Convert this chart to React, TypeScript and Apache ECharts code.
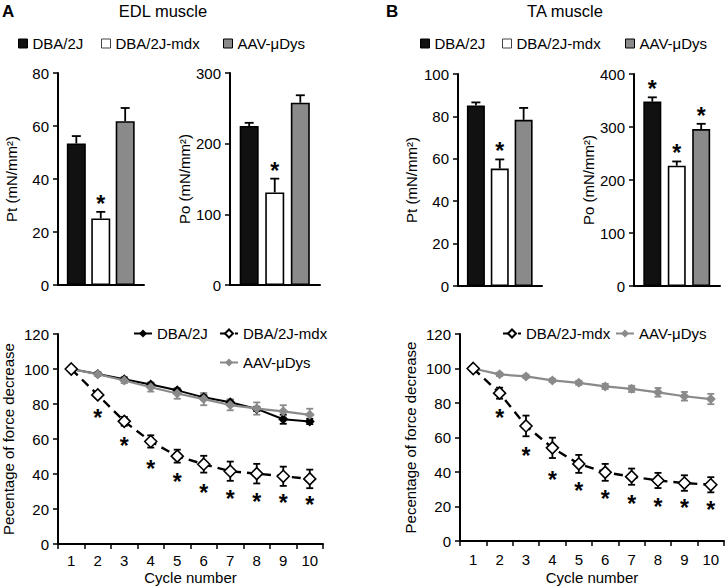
import React, { useEffect, useRef } from 'react';
import * as echarts from 'echarts';

// ---------- data ----------
const groups = ['DBA/2J', 'DBA/2J-mdx', 'AAV-μDys'];
const groupFill = ['#111111', '#ffffff', '#8a8a8a'];

const edlPt = [53.4, 25.1, 61.8];
const edlPtErr = [2.8, 2.5, 5.0];
const edlPtSig = [0, 1, 0];
const edlPo = [225, 131, 258];
const edlPoErr = [4.5, 19.5, 10.5];
const edlPoSig = [0, 1, 0];
const taPt = [85.2, 55.4, 78.4];
const taPtErr = [1.4, 4.3, 5.6];
const taPtSig = [0, 1, 0];
const taPo = [348, 227, 296];
const taPoErr = [8, 8, 10];
const taPoSig = [1, 1, 1];

const cycles = ['1', '2', '3', '4', '5', '6', '7', '8', '9', '10'];
const edlDba = [100, 97.2, 94.2, 91.2, 87.8, 83.8, 81, 77.2, 71.3, 70];
const edlDbaErr = [0, 0.8, 1, 1, 1, 1.2, 1.5, 1.2, 2.6, 1.5];
const edlMdx = [100, 85.2, 70.1, 58.6, 50.2, 45.6, 41.6, 40.2, 38.7, 37.2];
const edlMdxErr = [0, 1.5, 2.5, 3.5, 3.7, 4.8, 5.5, 5.6, 5.5, 5.3];
const edlAav = [100, 97, 93.4, 89.6, 86, 82.8, 79.4, 77.4, 75.8, 73.8];
const edlAavErr = [0, 1, 1.5, 2.5, 3, 3.5, 3, 3.5, 3.5, 3.5];
const edlStarY = [null, 74.9, 58.8, 45.9, 38.3, 31.8, 28.8, 27.1, 26.5, 25];

const taMdx = [100, 85.7, 66.7, 54, 44.7, 39.8, 37.3, 35.1, 33.6, 32.6];
const taMdxErr = [0, 3.2, 6, 5.9, 5.2, 4.9, 4.7, 4.4, 4.5, 4.4];
const taAav = [100, 96.6, 95.4, 93.1, 91.7, 89.6, 88.2, 86.2, 83.9, 82.3];
const taAavErr = [0, 1, 1, 1, 1.2, 1.5, 1.8, 2.5, 2.5, 3];
const taStarY = [null, 74, 52.1, 38.4, 32, 27.1, 24.4, 22.8, 22.2, 20.9];

// ---------- style ----------
const FONT = '"Liberation Sans", Arial, Helvetica, sans-serif';
const GRAY = '#8a8a8a';

function starText(x: number, y: number) {
  return {
    type: 'text',
    x,
    y: y + 5,
    style: {
      text: '*',
      fontSize: 23,
      fontWeight: 'bold',
      fontFamily: FONT,
      fill: '#000',
      textAlign: 'center',
      textVerticalAlign: 'middle',
    },
  };
}

function barErrRender(params: any, api: any) {
  const x = api.value(0);
  const v = api.value(1);
  const e = api.value(2);
  const s = api.value(3);
  const base = api.coord([x, v]);
  const top = api.coord([x, v + e]);
  const children: any[] = [
    { type: 'line', shape: { x1: base[0], y1: base[1], x2: top[0], y2: top[1] }, style: { stroke: '#000', lineWidth: 1.8 } },
    { type: 'line', shape: { x1: top[0] - 4.5, y1: top[1], x2: top[0] + 4.5, y2: top[1] }, style: { stroke: '#000', lineWidth: 1.8 } },
  ];
  if (s) children.push(starText(top[0], top[1] - 13));
  return { type: 'group', children };
}

function lineErrRender(color: string) {
  return (params: any, api: any) => {
    const i = api.value(0);
    const v = api.value(1);
    const e = api.value(2);
    if (!e) return null;
    const a = api.coord([i, v - e]);
    const b = api.coord([i, v + e]);
    const w = 3.5;
    const st = { stroke: color, lineWidth: 1.8 };
    return {
      type: 'group',
      children: [
        { type: 'line', shape: { x1: a[0], y1: a[1], x2: b[0], y2: b[1] }, style: st },
        { type: 'line', shape: { x1: a[0] - w, y1: a[1], x2: a[0] + w, y2: a[1] }, style: st },
        { type: 'line', shape: { x1: b[0] - w, y1: b[1], x2: b[0] + w, y2: b[1] }, style: st },
      ],
    };
  };
}

function starRender(params: any, api: any) {
  const i = api.value(0);
  const y = api.value(1);
  const p = api.coord([i, y]);
  return starText(p[0], p[1]);
}

const barPanels = [
  { grid: { left: 58, top: 73, width: 86, height: 212 }, max: 80, interval: 20, name: 'Pt (mN/mm²)', nameGap: 39, vals: edlPt, errs: edlPtErr, sig: edlPtSig, barW: 19 },
  { grid: { left: 230, top: 73, width: 90, height: 212 }, max: 300, interval: 100, name: 'Po (mN/mm²)', nameGap: 33, vals: edlPo, errs: edlPoErr, sig: edlPoSig, barW: 19 },
  { grid: { left: 458, top: 74, width: 84, height: 212 }, max: 100, interval: 20, name: 'Pt (mN/mm²)', nameGap: 39, vals: taPt, errs: taPtErr, sig: taPtSig, barW: 18 },
  { grid: { left: 634, top: 74, width: 86, height: 212 }, max: 400, interval: 100, name: 'Po (mN/mm²)', nameGap: 37, vals: taPo, errs: taPoErr, sig: taPoSig, barW: 18 },
];

const lineStyles: Record<string, any> = {
  'DBA/2J': { lineStyle: { color: '#000', width: 2 }, itemStyle: { color: '#000' }, symbolSize: 10, err: '#000', z: 3 },
  'AAV-μDys': { lineStyle: { color: GRAY, width: 2.2 }, itemStyle: { color: GRAY }, symbolSize: 10, err: GRAY, z: 4 },
  'DBA/2J-mdx': { lineStyle: { color: '#000', width: 2.4, type: [9, 6] }, itemStyle: { color: '#fff', borderColor: '#000', borderWidth: 1.6 }, symbolSize: 12, err: '#000', z: 5 },
};

const linePanels = [
  {
    grid: { left: 58, top: 334, width: 265, height: 210 }, nameGap: 42, labelMargin: 9, xNameGap: 26,
    lines: [
      { name: 'DBA/2J', vals: edlDba, errs: edlDbaErr },
      { name: 'AAV-μDys', vals: edlAav, errs: edlAavErr },
      { name: 'DBA/2J-mdx', vals: edlMdx, errs: edlMdxErr },
    ],
    stars: edlStarY,
  },
  {
    grid: { left: 460, top: 334, width: 264, height: 207 }, nameGap: 42, labelMargin: 11, xNameGap: 29,
    lines: [
      { name: 'AAV-μDys', vals: taAav, errs: taAavErr },
      { name: 'DBA/2J-mdx', vals: taMdx, errs: taMdxErr },
    ],
    stars: taStarY,
  },
];

function buildOption() {
  const grid: any[] = [];
  const xAxis: any[] = [];
  const yAxis: any[] = [];
  const series: any[] = [];
  const axisLine = { show: true, onZero: false, lineStyle: { color: '#000', width: 2 } };
  const axisLabel = { fontSize: 15, color: '#000', fontFamily: FONT };
  const nameTextStyle = { fontSize: 15, color: '#000', fontFamily: FONT };

  barPanels.forEach((p, i) => {
    grid.push({ ...p.grid });
    xAxis.push({ gridIndex: i, type: 'value', min: 0.25, max: 3.77, axisLine, axisTick: { show: false }, axisLabel: { show: false }, splitLine: { show: false } });
    yAxis.push({
      gridIndex: i, type: 'value', min: 0, max: p.max, interval: p.interval,
      name: p.name, nameLocation: 'middle', nameGap: p.nameGap, nameTextStyle,
      axisLine, axisTick: { show: true, length: 5, lineStyle: { color: '#000', width: 1.5 } },
      axisLabel: { ...axisLabel, margin: 9 }, splitLine: { show: false },
    });
    groups.forEach((g, k) => {
      series.push({
        type: 'bar', name: g, xAxisIndex: i, yAxisIndex: i, data: [[k + 1, p.vals[k]]],
        barWidth: p.barW, barGap: '-100%', silent: true,
        itemStyle: { color: groupFill[k], borderColor: '#000', borderWidth: 1.6 },
      });
    });
    series.push({
      type: 'custom', xAxisIndex: i, yAxisIndex: i, z: 5, silent: true,
      data: p.vals.map((v, k) => [k + 1, v, p.errs[k], p.sig[k]]),
      renderItem: barErrRender,
    });
  });

  linePanels.forEach((p, j) => {
    const i = barPanels.length + j;
    grid.push({ ...p.grid });
    xAxis.push({
      gridIndex: i, type: 'category', data: cycles, boundaryGap: true,
      name: 'Cycle number', nameLocation: 'middle', nameGap: p.xNameGap, nameTextStyle,
      axisLine, axisTick: { show: true, length: 5, lineStyle: { color: '#000', width: 1.5 } },
      axisLabel: { ...axisLabel, margin: p.labelMargin, interval: 0 },
    });
    yAxis.push({
      gridIndex: i, type: 'value', min: 0, max: 120, interval: 20,
      name: 'Pecentage of force decrease', nameLocation: 'middle', nameGap: p.nameGap, nameTextStyle,
      axisLine, axisTick: { show: true, length: 5, lineStyle: { color: '#000', width: 1.5 } },
      axisLabel: { ...axisLabel, margin: 9 }, splitLine: { show: false },
    });
    p.lines.forEach((l) => {
      const st = lineStyles[l.name];
      series.push({
        type: 'custom', xAxisIndex: i, yAxisIndex: i, z: 1, silent: true,
        data: l.vals.map((v, k) => [k, v, l.errs[k]]),
        renderItem: lineErrRender(st.err),
      });
    });
    p.lines.forEach((l) => {
      const st = lineStyles[l.name];
      series.push({
        type: 'line', name: 'line:' + l.name, xAxisIndex: i, yAxisIndex: i, data: l.vals,
        symbol: 'diamond', symbolSize: st.symbolSize, showSymbol: true, z: st.z, silent: true,
        lineStyle: st.lineStyle, itemStyle: st.itemStyle,
      });
    });
    series.push({
      type: 'custom', xAxisIndex: i, yAxisIndex: i, z: 6, silent: true,
      data: p.stars.map((y, k) => (y == null ? null : [k, y])).filter((d) => d != null),
      renderItem: starRender,
    });
  });

  const legendText = { fontSize: 15, color: '#000', fontFamily: FONT };
  const barLegend = (name: string, k: number, left: number) => ({
    left, top: 36, padding: 0, selectedMode: false, itemWidth: 9, itemHeight: 9, textStyle: legendText,
    data: [{ name, icon: 'rect', itemStyle: { color: groupFill[k], borderColor: k === 1 ? '#444' : '#000', borderWidth: 1 } }],
  });
  const lineLegend = (name: string, left: number, top: number) => ({
    left, top, padding: 0, selectedMode: false, itemWidth: 18, itemHeight: 10, textStyle: legendText,
    formatter: (n: string) => n.replace('line:', ''),
    data: ['line:' + name],
  });
  const legend = [
    barLegend(groups[0], 0, 18), barLegend(groups[1], 1, 101), barLegend(groups[2], 2, 223),
    barLegend(groups[0], 0, 420), barLegend(groups[1], 1, 502), barLegend(groups[2], 2, 625),
    lineLegend('DBA/2J', 133, 326), lineLegend('DBA/2J-mdx', 219, 326), lineLegend('AAV-μDys', 219, 355),
    lineLegend('DBA/2J-mdx', 502, 326), lineLegend('AAV-μDys', 615, 326),
  ];

  const titleStyle = { fontSize: 16.5, fontWeight: 'normal', color: '#000', fontFamily: FONT };
  const letterStyle = { fontSize: 17, fontWeight: 'bold', color: '#000', fontFamily: FONT };
  const title = [
    { text: 'A', left: 2, top: 3, padding: 0, textStyle: letterStyle },
    { text: 'EDL muscle', left: 163, top: 2, padding: 0, textAlign: 'center', textStyle: titleStyle },
    { text: 'B', left: 386, top: 3, padding: 0, textStyle: letterStyle },
    { text: 'TA muscle', left: 565, top: 2, padding: 0, textAlign: 'center', textStyle: titleStyle },
  ];

  return { animation: false, backgroundColor: '#fff', textStyle: { fontFamily: FONT }, title, legend, grid, xAxis, yAxis, series };
}

export default function App() {
  const ref = useRef<HTMLDivElement>(null);
  useEffect(() => {
    if (!ref.current) return;
    const chart = echarts.init(ref.current, null, { renderer: 'svg' });
    chart.setOption(buildOption() as any);
    return () => chart.dispose();
  }, []);
  return <div ref={ref} style={{ position: 'absolute', left: 0, top: 0, width: 725, height: 587, background: '#fff' }} />;
}
